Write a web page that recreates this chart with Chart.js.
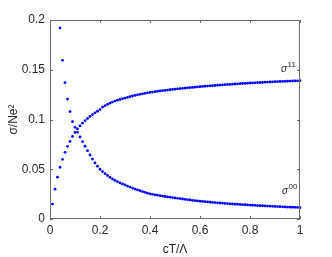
<!DOCTYPE html>
<html>
<head>
<meta charset="utf-8">
<script src="https://cdn.jsdelivr.net/npm/chart.js@4/dist/chart.umd.min.js"></script>
<style>
  html, body { margin: 0; padding: 0; background: #fff; }
  #wrap { width: 332px; height: 257px; }
</style>
</head>
<body>
<div id="wrap"><canvas id="mycanvas" width="332" height="257"></canvas></div>
<script>
// cT/Lambda values
const cT = [
  0.01, 0.02, 0.03, 0.04, 0.05, 0.06, 0.07, 0.08, 0.09, 0.10,
  0.11, 0.12, 0.13, 0.14, 0.15, 0.16, 0.17, 0.18, 0.19, 0.20,
  0.21, 0.22, 0.23, 0.24, 0.25, 0.26, 0.27, 0.28, 0.29, 0.30,
  0.31, 0.32, 0.33, 0.34, 0.35, 0.36, 0.37, 0.38, 0.39, 0.40,
  0.41, 0.42, 0.43, 0.44, 0.45, 0.46, 0.47, 0.48, 0.49, 0.50,
  0.51, 0.52, 0.53, 0.54, 0.55, 0.56, 0.57, 0.58, 0.59, 0.60,
  0.61, 0.62, 0.63, 0.64, 0.65, 0.66, 0.67, 0.68, 0.69, 0.70,
  0.71, 0.72, 0.73, 0.74, 0.75, 0.76, 0.77, 0.78, 0.79, 0.80,
  0.81, 0.82, 0.83, 0.84, 0.85, 0.86, 0.87, 0.88, 0.89, 0.90,
  0.91, 0.92, 0.93, 0.94, 0.95, 0.96, 0.97, 0.98, 0.99, 1.00
];

// sigma^11 (rising)
const sigma11 = [
  0.0150, 0.0300, 0.0420, 0.0520, 0.0600, 0.0670, 0.0730, 0.0780, 0.0830, 0.0870,
  0.0905, 0.0935, 0.0963, 0.0988, 0.1010, 0.1031, 0.1050, 0.1067, 0.1083, 0.1100,
  0.1125, 0.1139, 0.1152, 0.1164, 0.1175, 0.1185, 0.1194, 0.1202, 0.1209, 0.1215,
  0.1222, 0.1229, 0.1236, 0.1242, 0.1248, 0.1253, 0.1258, 0.1263, 0.1268, 0.1272,
  0.1276, 0.1280, 0.1284, 0.1287, 0.1290, 0.1293, 0.1296, 0.1299, 0.1302, 0.1305,
  0.1308, 0.1310, 0.1313, 0.1315, 0.1318, 0.1320, 0.1322, 0.1325, 0.1327, 0.1330,
  0.1332, 0.1334, 0.1336, 0.1338, 0.1340, 0.1342, 0.1344, 0.1346, 0.1348, 0.1350,
  0.1352, 0.1353, 0.1355, 0.1357, 0.1358, 0.1360, 0.1362, 0.1363, 0.1365, 0.1367,
  0.1368, 0.1369, 0.1371, 0.1372, 0.1373, 0.1375, 0.1376, 0.1377, 0.1379, 0.1380,
  0.1381, 0.1382, 0.1383, 0.1384, 0.1385, 0.1386, 0.1387, 0.1388, 0.1389, 0.1390
];

// sigma^00 (falling), first points are above the plotted range
const sigma00 = [
  null,   null,   null,   0.1920, 0.1595, 0.1370, 0.1205, 0.1080, 0.0978, 0.0921,
  0.0871, 0.0824, 0.0777, 0.0731, 0.0687, 0.0643, 0.0602, 0.0564, 0.0530, 0.0500,
  0.0477, 0.0456, 0.0437, 0.0419, 0.0403, 0.0388, 0.0375, 0.0363, 0.0352, 0.0342,
  0.0331, 0.0321, 0.0311, 0.0301, 0.0292, 0.0284, 0.0276, 0.0268, 0.0260, 0.0253,
  0.0248, 0.0243, 0.0239, 0.0234, 0.0230, 0.0226, 0.0222, 0.0219, 0.0215, 0.0212,
  0.0208, 0.0205, 0.0201, 0.0198, 0.0194, 0.0191, 0.0188, 0.0185, 0.0182, 0.0179,
  0.0177, 0.0174, 0.0172, 0.0169, 0.0167, 0.0165, 0.0163, 0.0161, 0.0159, 0.0157,
  0.0155, 0.0153, 0.0151, 0.0149, 0.0148, 0.0146, 0.0144, 0.0143, 0.0141, 0.0140,
  0.0138, 0.0137, 0.0135, 0.0134, 0.0133, 0.0131, 0.0130, 0.0129, 0.0127, 0.0126,
  0.0125, 0.0124, 0.0122, 0.0121, 0.0120, 0.0119, 0.0118, 0.0117, 0.0116, 0.0114
];

const xTicks = ['0', '0.2', '0.4', '0.6', '0.8', '1'];
const yTicks = ['0', '0.05', '0.1', '0.15', '0.2'];

const txt_color = '#262626';
const dot_color = '#0000ff';
const fontFam = '"Liberation Sans", Arial, Helvetica, sans-serif';

function toPoints(ys) {
  return cT.map(function (x, i) { return { x: x, y: ys[i] }; });
}

// box round the axes and inward ticks, MATLAB style
const boxPlugin = {
  id: 'boxPlugin',
  afterDraw: function (chart) {
    const ctx = chart.ctx;
    const a = chart.chartArea;
    const xs = chart.scales.x, ys = chart.scales.y;
    const tl = 3;
    ctx.save();
    ctx.strokeStyle = '#6b6b6b';
    ctx.lineWidth = 1;
    ctx.strokeRect(a.left + 0.5, a.top + 0.5, a.right - a.left - 1, a.bottom - a.top - 1);
    ctx.beginPath();
    xs.ticks.forEach(function (t) {
      const px = Math.round(xs.getPixelForValue(t.value)) + 0.5;
      ctx.moveTo(px, a.bottom); ctx.lineTo(px, a.bottom - tl);
      ctx.moveTo(px, a.top); ctx.lineTo(px, a.top + tl);
    });
    ys.ticks.forEach(function (t) {
      const py = Math.round(ys.getPixelForValue(t.value)) + 0.5;
      ctx.moveTo(a.left, py); ctx.lineTo(a.left + tl, py);
      ctx.moveTo(a.right, py); ctx.lineTo(a.right - tl, py);
    });
    ctx.stroke();

    // curve labels
    function label(x, y, sup) {
      const px = xs.getPixelForValue(x), py = ys.getPixelForValue(y);
      ctx.fillStyle = txt_color;
      ctx.textBaseline = 'alphabetic';
      ctx.textAlign = 'left';
      ctx.font = 'italic 10px ' + fontFam;
      ctx.fillText('σ', px, py);
      const w = ctx.measureText('σ').width;
      ctx.font = '8px ' + fontFam;
      ctx.fillText(sup, px + w + 0.5, py - 5);
    }
    label(0.924, 0.148, '11');
    label(0.928, 0.0254, '00');
    ctx.restore();
  }
};

const data = {
  datasets: [
    {
      label: 'σ11',
      data: toPoints(sigma11),
      backgroundColor: dot_color,
      borderColor: dot_color,
      pointRadius: 1.4,
      borderWidth: 0,
      clip: false
    },
    {
      label: 'σ00',
      data: toPoints(sigma00),
      backgroundColor: dot_color,
      borderColor: dot_color,
      pointRadius: 1.4,
      borderWidth: 0,
      clip: false
    }
  ]
};

const config = {
  type: 'scatter',
  data: data,
  plugins: [boxPlugin],
  options: {
    responsive: false,
    animation: false,
    layout: { padding: { top: 20, right: 32, left: 0, bottom: 0 } },
    plugins: {
      legend: { display: false },
      tooltip: { enabled: false }
    },
    scales: {
      x: {
        type: 'linear',
        min: 0,
        max: 1,
        afterFit: function (s) { s.height = 38; },
        grid: { display: false, drawTicks: false },
        border: { display: false },
        ticks: {
          stepSize: 0.2,
          padding: 4,
          color: txt_color,
          font: { family: fontFam, size: 12 },
          maxRotation: 0,
          callback: function (v, i) { return xTicks[i]; }
        },
        title: {
          display: true,
          text: 'cT/Λ',
          color: txt_color,
          font: { family: fontFam, size: 12 },
          padding: { top: 4, bottom: 0 }
        }
      },
      y: {
        type: 'linear',
        min: 0,
        max: 0.2,
        afterFit: function (s) { s.width = 50; },
        grid: { display: false, drawTicks: false },
        border: { display: false },
        ticks: {
          stepSize: 0.05,
          padding: 5,
          color: txt_color,
          font: { family: fontFam, size: 12 },
          callback: function (v, i) { return yTicks[i]; }
        },
        title: {
          display: true,
          text: 'σ/Ne²',
          color: txt_color,
          font: { family: fontFam, size: 12 },
          padding: { top: 6, bottom: 0 }
        }
      }
    }
  }
};

var myChart = new Chart(document.getElementById('mycanvas'), config);
</script>
</body>
</html>
